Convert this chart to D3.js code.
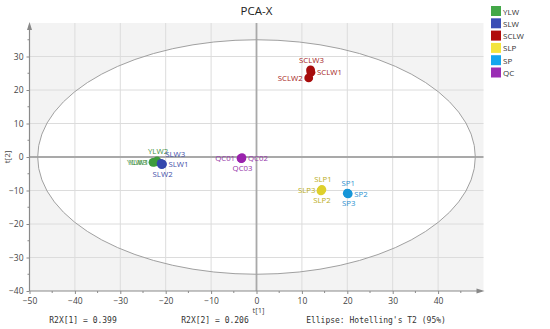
<!DOCTYPE html>
<html><head><meta charset="utf-8">
<script src="https://cdn.jsdelivr.net/npm/d3@7"></script>
<style>html,body{margin:0;padding:0;background:#fff;}svg{display:block;}</style>
</head><body>
<svg id="c" width="550" height="329"></svg>
<script>
// ---- data ----
const groups = ["YLW","SLW","SCLW","SLP","SP","QC"];
const groupColors = ["#43a848","#3a4db5","#b00d0d","#f3e43c","#14a6ee","#9a2db4"];
const pointColors = ["#3d9b3d","#3447ad","#a70c0c","#ded02c","#1796d8","#9a22ad"];
const labelColors = ["#3f8f3f","#3f4fa8","#a52222","#b9ad22","#2b8fcf","#9535a8"];
const pointNames  = ["YLW1","YLW2","YLW3","SLW1","SLW2","SLW3","SCLW1","SCLW2","SCLW3","SLP1","SLP2","SLP3","SP1","SP2","SP3","QC01","QC02","QC03"];
const pointGroup  = ["YLW","YLW","YLW","SLW","SLW","SLW","SCLW","SCLW","SCLW","SLP","SLP","SLP","SP","SP","SP","QC","QC","QC"];
const t1Values    = [-22.4,-21.9,-22.8,-20.7,-20.9,-21.0,12.0,11.5,11.9,14.4,14.2,14.3,20.0,20.2,20.1,-3.4,-3.2,-3.3];
const t2Values    = [-1.5,-1.2,-1.6,-2.1,-2.3,-1.9,25.3,23.6,26.0,-9.7,-10.1,-9.9,-10.8,-11.0,-10.9,-0.4,-0.2,-0.5];
const xTicks = [-50,-40,-30,-20,-10,0,10,20,30,40];
const yTicks = [-40,-30,-20,-10,0,10,20,30];
const r2x = ["R2X[1] = 0.399","R2X[2] = 0.206"];
const ellipseLabel = "Ellipse: Hotelling's T2 (95%)";
const ellipseRadii = [48.2, 35.0]; // t1, t2 semi axes (95% Hotelling T2)

// label placement (style)
const placement = {YLW1:"left",YLW2:"above",YLW3:"left",SLW1:"right",SLW2:"below",SLW3:"aboveright",
  SCLW1:"right",SCLW2:"left",SCLW3:"above",SLP1:"above",SLP2:"below",SLP3:"left",
  SP1:"above",SP2:"right",SP3:"below",QC01:"left",QC02:"right",QC03:"below"};

const svg = d3.select("#c");
const x = d3.scaleLinear().domain([-50,50]).range([29.5,483.5]);
const y = d3.scaleLinear().domain([-40,40]).range([291,23]);
const font = "'Open Sans','Noto Sans',sans-serif";

// background
svg.append("rect").attr("x",x(-50)).attr("y",y(40)).attr("width",x(50)-x(-50)).attr("height",y(-40)-y(40)).attr("fill","#f3f3f3");
svg.append("ellipse").attr("cx",x(0)).attr("cy",y(0))
  .attr("rx",x(ellipseRadii[0])-x(0)).attr("ry",y(0)-y(ellipseRadii[1])).attr("fill","#fff");

// grid
const g = svg.append("g");
g.selectAll(".vg").data(d3.range(-40,50,10).filter(d=>d!==0)).enter().append("line")
  .attr("x1",d=>x(d)).attr("x2",d=>x(d)).attr("y1",y(40)).attr("y2",y(-40)).attr("stroke","#dcdcdc").attr("stroke-width",1);
g.selectAll(".hg").data(d3.range(-30,40,10).filter(d=>d!==0)).enter().append("line")
  .attr("y1",d=>y(d)).attr("y2",d=>y(d)).attr("x1",x(-50)).attr("x2",x(50)).attr("stroke","#dcdcdc").attr("stroke-width",1);
// zero lines
svg.append("line").attr("x1",x(0)).attr("x2",x(0)).attr("y1",y(40)).attr("y2",y(-40)).attr("stroke","#a9a9a9").attr("stroke-width",1.8);
svg.append("line").attr("x1",x(-50)).attr("x2",x(50)).attr("y1",y(0)).attr("y2",y(0)).attr("stroke","#a9a9a9").attr("stroke-width",1.8);

// ellipse outline
svg.append("ellipse").attr("cx",x(0)).attr("cy",y(0))
  .attr("rx",x(ellipseRadii[0])-x(0)).attr("ry",y(0)-y(ellipseRadii[1])).attr("fill","none").attr("stroke","#a0a0a0").attr("stroke-width",1);

// axes
const axisColor = "#8a8a8a";
const xAxis = d3.axisBottom(x).tickValues(xTicks).tickSize(3).tickFormat(d3.format("d"));
const gx = svg.append("g").attr("transform",`translate(0,${y(-40)})`).call(xAxis);
const yAxis = d3.axisLeft(y).tickValues(yTicks).tickSize(3).tickFormat(d3.format("d"));
const gy = svg.append("g").attr("transform",`translate(${x(-50)},0)`).call(yAxis);
[gx,gy].forEach(a=>{
  a.select(".domain").remove();
  a.selectAll("line").attr("stroke",axisColor);
  a.selectAll("text").attr("fill","#444").style("font-family",font).style("font-size","8.5px");
});
gx.selectAll("text").attr("dy","0.8em");
// minor ticks
svg.append("g").selectAll("line").data(d3.range(-45,50,10)).enter().append("line")
  .attr("x1",d=>x(d)).attr("x2",d=>x(d)).attr("y1",y(-40)).attr("y2",y(-40)+2).attr("stroke",axisColor);
svg.append("g").selectAll("line").data(d3.range(-35,40,10)).enter().append("line")
  .attr("y1",d=>y(d)).attr("y2",d=>y(d)).attr("x1",x(-50)).attr("x2",x(-50)-2).attr("stroke",axisColor);
// axis lines with arrows
svg.append("line").attr("x1",x(-50)).attr("x2",x(-50)).attr("y1",y(-40)).attr("y2",y(40)+2).attr("stroke",axisColor).attr("stroke-width",1.2);
svg.append("path").attr("d",`M${x(-50)-2.5},${y(40)+7} L${x(-50)},${y(40)-1} L${x(-50)+2.5},${y(40)+7}Z`).attr("fill","#888");
svg.append("line").attr("x1",x(-50)).attr("x2",x(50)-2).attr("y1",y(-40)).attr("y2",y(-40)).attr("stroke",axisColor).attr("stroke-width",1.2);
svg.append("path").attr("d",`M${x(50)-7},${y(-40)-2.5} L${x(50)+1},${y(-40)} L${x(50)-7},${y(-40)+2.5}Z`).attr("fill","#888");

// axis titles
svg.append("text").attr("x",x(0)+2).attr("y",313).attr("text-anchor","middle").style("font-family",font).style("font-size","7.5px").attr("fill","#444").text("t[1]");
svg.append("text").attr("transform",`translate(10,${y(0)}) rotate(-90)`).attr("text-anchor","middle").style("font-family",font).style("font-size","8px").attr("fill","#444").text("t[2]");
// title
svg.append("text").attr("x",x(0)).attr("y",15).attr("text-anchor","middle").style("font-family",font).style("font-size","11.5px").attr("fill","#222").text("PCA-X");

// footer
const mono = "'DejaVu Sans Mono','Liberation Mono',monospace";
const footer = [[83,r2x[0]],[215,r2x[1]],[376,ellipseLabel]];
svg.selectAll(".ft").data(footer).enter().append("text").attr("x",d=>d[0]).attr("y",323).attr("text-anchor","middle")
  .style("font-family",mono).style("font-size","8px").attr("fill","#333").text(d=>d[1]);

// points
const pts = pointNames.map((n,i)=>({name:n,group:pointGroup[i],t1:t1Values[i],t2:t2Values[i]}));
const gi = d=>groups.indexOf(d.group);
svg.append("g").selectAll("circle").data(pts).enter().append("circle")
  .attr("cx",d=>x(d.t1)).attr("cy",d=>y(d.t2)).attr("r",4.4)
  .attr("fill",d=>pointColors[gi(d)]);

const off = {left:[-6,3,"end"],right:[6,3,"start"],above:[1,-7,"middle"],below:[1,12,"middle"],
  aboveright:[4,-6,"start"],belowright:[4,12,"start"]};
svg.append("g").selectAll("text").data(pts).enter().append("text")
  .attr("x",d=>x(d.t1)+off[placement[d.name]][0])
  .attr("y",d=>y(d.t2)+off[placement[d.name]][1])
  .attr("text-anchor",d=>off[placement[d.name]][2])
  .style("font-family",font).style("font-size","7.8px")
  .attr("fill",d=>labelColors[gi(d)]).text(d=>d.name);

// legend
const lg = svg.append("g").selectAll("g").data(groups).enter().append("g")
  .attr("transform",(d,i)=>`translate(491,${6+i*12.3})`);
lg.append("rect").attr("width",10).attr("height",10).attr("fill",(d,i)=>groupColors[i]);
lg.append("text").attr("x",12).attr("y",8.5).style("font-family",font).style("font-size","8px").attr("fill","#333").text(d=>d);
</script>
</body></html>
